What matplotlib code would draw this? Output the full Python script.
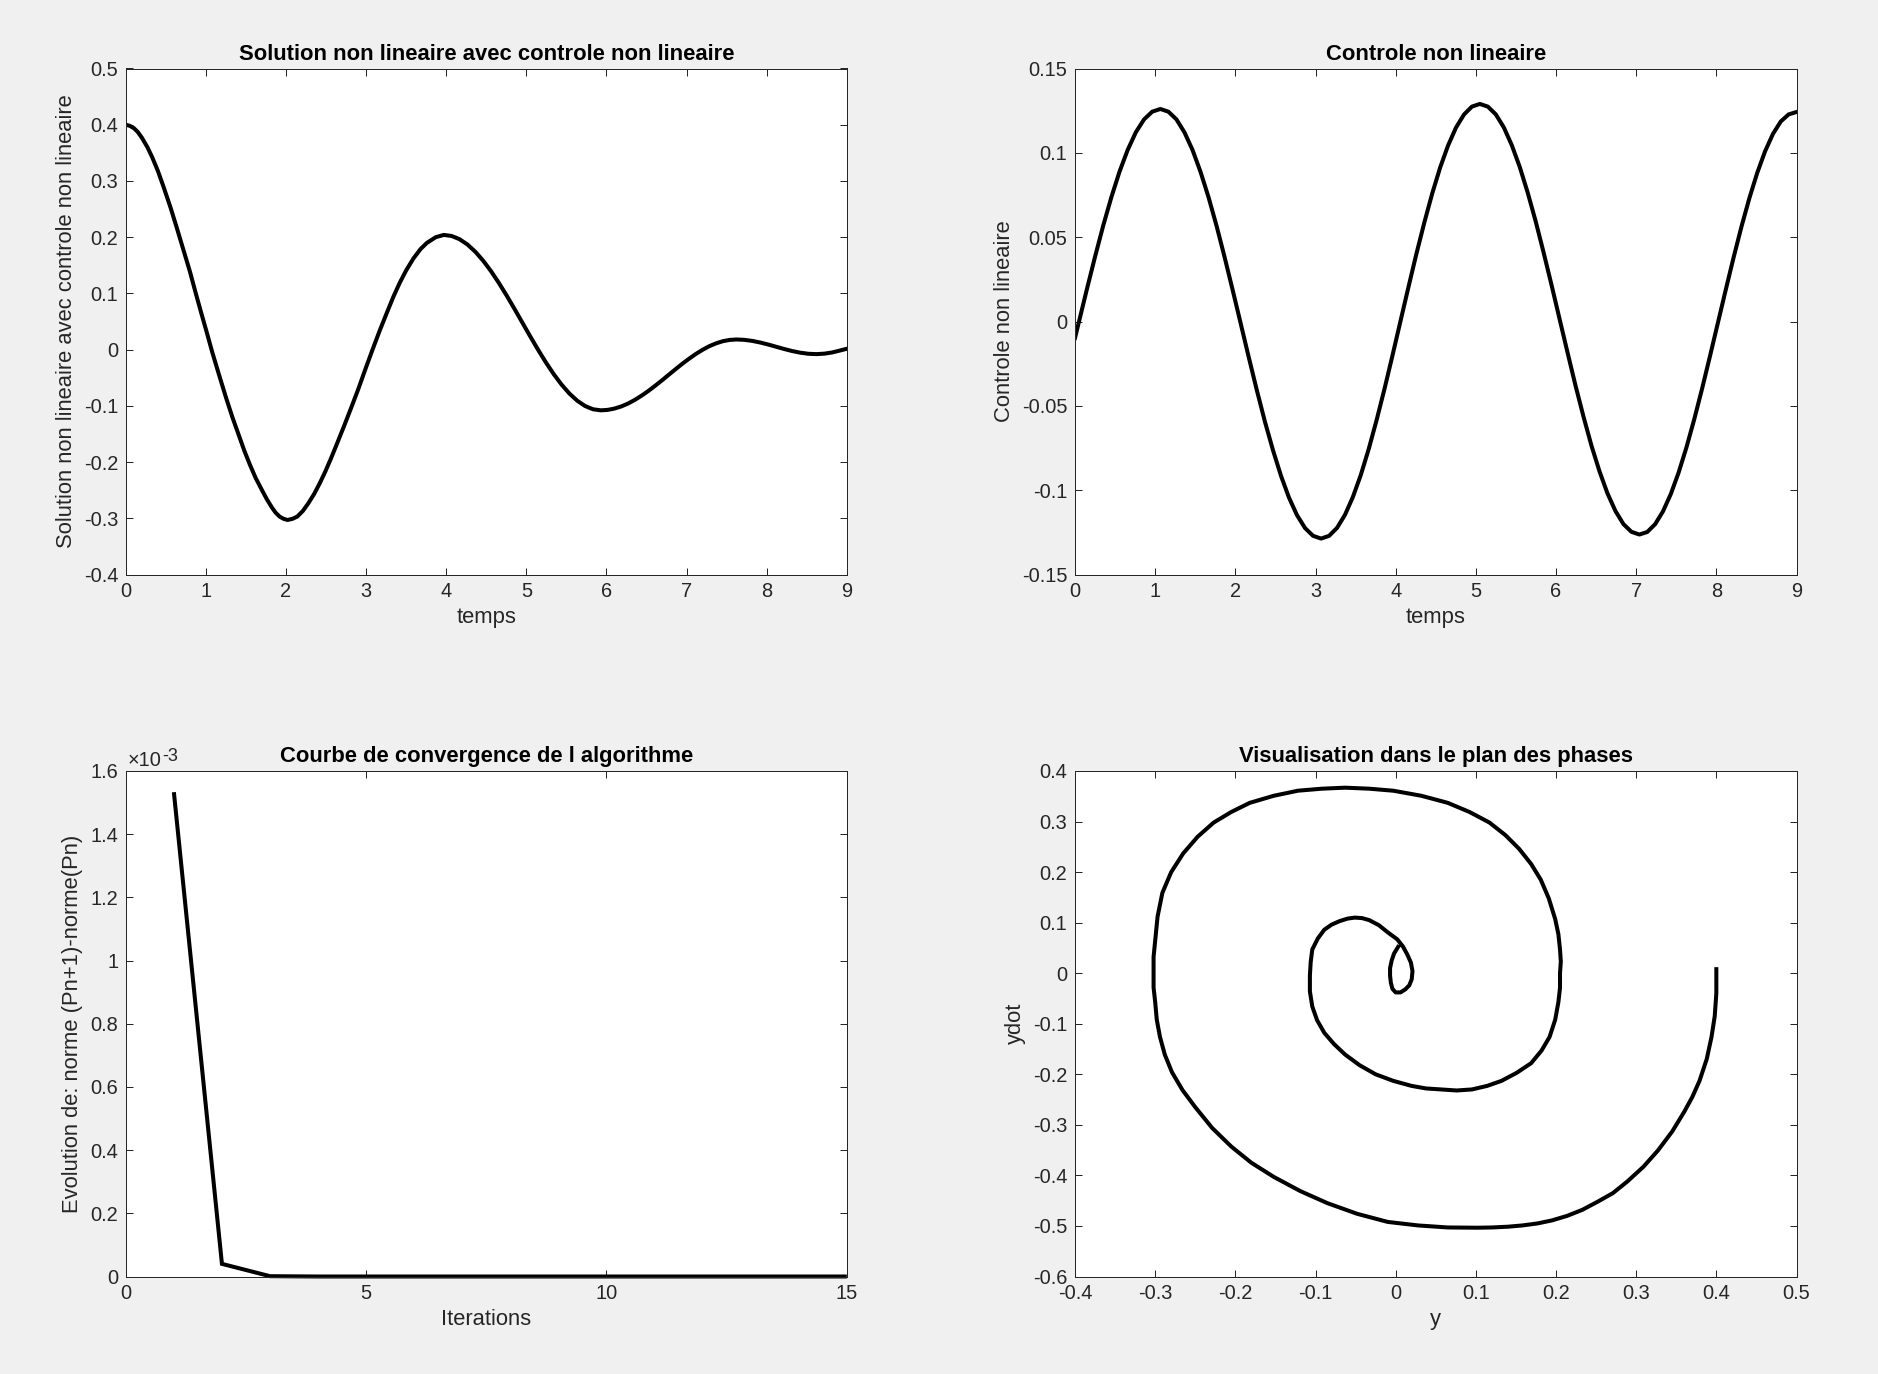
import matplotlib
matplotlib.use('Agg')
import matplotlib.pyplot as plt
from matplotlib.ticker import FuncFormatter

plt.rcParams['font.family'] = ['Liberation Sans', 'DejaVu Sans']
plt.rcParams['axes.unicode_minus'] = False

# ---------------- data ----------------
# Top-left: solution y(t)
t_sol = [0.00, 0.05, 0.10, 0.15, 0.20, 0.27, 0.33, 0.40, 0.47, 0.56,
         0.64, 0.72, 0.80, 0.87, 0.94, 1.01, 1.08, 1.16, 1.25, 1.33,
         1.41, 1.48, 1.55, 1.62, 1.70, 1.76, 1.82, 1.87, 1.92, 1.97,
         2.02, 2.08, 2.14, 2.21, 2.28, 2.35, 2.42, 2.49, 2.56, 2.64,
         2.73, 2.82, 2.90, 2.99, 3.08, 3.17, 3.26, 3.34, 3.42, 3.50,
         3.59, 3.68, 3.76, 3.87, 3.970, 4.068, 4.166, 4.264, 4.362, 4.460,
         4.558, 4.656, 4.754, 4.852, 4.950, 5.048, 5.146, 5.244, 5.342, 5.440,
         5.538, 5.636, 5.734, 5.832, 5.930, 6.015, 6.099, 6.184, 6.268, 6.353,
         6.437, 6.522, 6.606, 6.691, 6.775, 6.860, 6.944, 7.029, 7.113, 7.198,
         7.282, 7.367, 7.451, 7.536, 7.620, 7.720, 7.820, 7.920, 8.020, 8.120,
         8.220, 8.320, 8.420, 8.520, 8.620, 8.720, 8.820, 8.910, 9.000]
y_sol = [0.400, 0.398, 0.394, 0.387, 0.377, 0.360, 0.342, 0.318, 0.290, 0.252,
         0.215, 0.177, 0.139, 0.102, 0.066, 0.031, -0.005, -0.043, -0.085, -0.120,
         -0.152, -0.180, -0.205, -0.228, -0.250, -0.266, -0.280, -0.290, -0.297, -0.301,
         -0.303, -0.301, -0.297, -0.287, -0.273, -0.257, -0.238, -0.217, -0.194, -0.166,
         -0.134, -0.101, -0.071, -0.035, 0.000, 0.034, 0.066, 0.094, 0.119, 0.141,
         0.162, 0.179, 0.190, 0.200, 0.2040, 0.2021, 0.1964, 0.1870, 0.1742, 0.1583,
         0.1397, 0.1188, 0.0962, 0.0724, 0.0480, 0.0236, -0.0002, -0.0228, -0.0437, -0.0623,
         -0.0782, -0.0910, -0.1004, -0.1061, -0.1080, -0.1072, -0.1049, -0.1011, -0.0960, -0.0895,
         -0.0820, -0.0736, -0.0645, -0.0549, -0.0450, -0.0351, -0.0255, -0.0164, -0.0080, -0.0005,
         0.0060, 0.0111, 0.0149, 0.0172, 0.0180, 0.0174, 0.0155, 0.0126, 0.0090, 0.0050,
         0.0010, -0.0026, -0.0055, -0.0074, -0.0080, -0.0072, -0.0050, -0.0018, 0.0015]

# Top-right: control u(t)
t_ctl = [0.000, 0.045, 0.147, 0.249, 0.351, 0.453, 0.555, 0.657, 0.759, 0.861, 0.963,
         1.065, 1.165, 1.266, 1.366, 1.466, 1.566, 1.667, 1.767, 1.867, 1.967,
         2.068, 2.168, 2.268, 2.368, 2.469, 2.569, 2.669, 2.769, 2.870, 2.970, 3.070,
         3.169, 3.268, 3.367, 3.466, 3.565, 3.664, 3.763, 3.862, 3.961, 4.060,
         4.159, 4.258, 4.357, 4.456, 4.555, 4.654, 4.753, 4.852, 4.951, 5.050,
         5.150, 5.249, 5.349, 5.448, 5.548, 5.647, 5.747, 5.846, 5.946, 6.045,
         6.145, 6.244, 6.344, 6.443, 6.543, 6.642, 6.742, 6.841, 6.941, 7.040,
         7.138, 7.236, 7.334, 7.432, 7.530, 7.628, 7.726, 7.824, 7.922, 8.020,
         8.118, 8.216, 8.314, 8.412, 8.510, 8.608, 8.706, 8.804, 8.902, 9.000]
u_ctl = [-0.0098, -0.0010, 0.0189, 0.0382, 0.0567, 0.0736, 0.0888, 0.1017, 0.1122, 0.1198, 0.1244,
         0.1260, 0.1244, 0.1198, 0.1121, 0.1017, 0.0887, 0.0735, 0.0565, 0.0380, 0.0186,
         -0.0014, -0.0213, -0.0407, -0.0592, -0.0762, -0.0914, -0.1044, -0.1148, -0.1225, -0.1271, -0.1287,
         -0.1271, -0.1224, -0.1147, -0.1041, -0.0910, -0.0756, -0.0583, -0.0397, -0.0200, 0.0002,
         0.0203, 0.0400, 0.0586, 0.0759, 0.0913, 0.1044, 0.1150, 0.1227, 0.1274, 0.1290,
         0.1274, 0.1228, 0.1151, 0.1046, 0.0916, 0.0764, 0.0593, 0.0408, 0.0213, 0.0014,
         -0.0186, -0.0381, -0.0566, -0.0737, -0.0889, -0.1019, -0.1124, -0.1201, -0.1247, -0.1263,
         -0.1248, -0.1202, -0.1126, -0.1023, -0.0895, -0.0745, -0.0577, -0.0395, -0.0203, -0.0007,
         0.0189, 0.0381, 0.0563, 0.0731, 0.0881, 0.1009, 0.1112, 0.1186, 0.1228, 0.1242]

# Bottom-left: convergence
iterations = list(range(1, 16))
ecart = [1.533e-3, 4.0e-5, 1.0e-6, 0, 0, 0, 0, 0, 0, 0, 0, 0, 0, 0, 0]

# Bottom-right: phase plane (y, ydot)
y_ph = [0.400, 0.400, 0.398, 0.394, 0.388, 0.379, 0.370, 0.360, 0.345, 0.327,
        0.309, 0.289, 0.271, 0.252, 0.233, 0.214, 0.195, 0.177, 0.158, 0.140,
        0.120, 0.102, 0.065, 0.028,
        -0.010, -0.048, -0.085, -0.119, -0.152, -0.180, -0.205, -0.229, -0.250, -0.266,
        -0.279, -0.288, -0.294, -0.298, -0.300, -0.302, -0.302, -0.302, -0.300, -0.297,
        -0.291, -0.280, -0.265, -0.247, -0.227, -0.205, -0.182, -0.152, -0.122, -0.092,
        -0.063, -0.033, -0.003, 0.032, 0.065, 0.092, 0.117, 0.137, 0.154, 0.169,
        0.181, 0.191, 0.199, 0.203, 0.205, 0.206, 0.205, 0.205, 0.203, 0.199,
        0.192, 0.182, 0.169, 0.151, 0.132, 0.114, 0.095, 0.076, 0.057, 0.038,
        0.020, -0.003, -0.025, -0.045, -0.063, -0.077, -0.089, -0.098, -0.104, -0.107,
        -0.107, -0.106, -0.104, -0.097, -0.089, -0.080, -0.070, -0.060, -0.051, -0.042,
        -0.033, -0.021, -0.010, 0.002, 0.009, 0.0145, 0.019, 0.021, 0.020, 0.017,
        0.012, 0.006, 0.000, -0.004, -0.006, -0.007, -0.007, -0.005, -0.002, 0.003]
ydot_ph = [0.008, -0.040, -0.085, -0.126, -0.170, -0.213, -0.245, -0.274, -0.313, -0.351,
           -0.383, -0.412, -0.435, -0.452, -0.468, -0.480, -0.489, -0.495, -0.499, -0.5015,
           -0.503, -0.5035, -0.503, -0.499,
           -0.492, -0.476, -0.455, -0.431, -0.403, -0.375, -0.343, -0.306, -0.265, -0.231,
           -0.196, -0.161, -0.126, -0.092, -0.057, -0.028, 0.000, 0.032, 0.064, 0.112,
           0.159, 0.200, 0.237, 0.270, 0.298, 0.319, 0.337, 0.351, 0.361, 0.365,
           0.367, 0.365, 0.361, 0.351, 0.337, 0.319, 0.298, 0.273, 0.246, 0.216,
           0.185, 0.148, 0.107, 0.077, 0.047, 0.023, 0.000, -0.029, -0.057, -0.092,
           -0.126, -0.153, -0.178, -0.197, -0.213, -0.223, -0.230, -0.232, -0.230, -0.228,
           -0.223, -0.213, -0.200, -0.182, -0.161, -0.140, -0.118, -0.093, -0.066, -0.036,
           -0.005, 0.022, 0.047, 0.069, 0.086, 0.096, 0.103, 0.108, 0.110, 0.109,
           0.105, 0.095, 0.081, 0.067, 0.053, 0.037, 0.021, 0.004, -0.012, -0.024,
           -0.032, -0.038, -0.038, -0.031, -0.019, -0.005, 0.010, 0.025, 0.039, 0.052]

# tick values
xt_time = [0, 1, 2, 3, 4, 5, 6, 7, 8, 9]
yt_sol = [-0.4, -0.3, -0.2, -0.1, 0, 0.1, 0.2, 0.3, 0.4, 0.5]
yt_ctl = [-0.15, -0.1, -0.05, 0, 0.05, 0.1, 0.15]
xt_it = [0, 5, 10, 15]
yt_it = [0, 0.2e-3, 0.4e-3, 0.6e-3, 0.8e-3, 1.0e-3, 1.2e-3, 1.4e-3, 1.6e-3]
xt_ph = [-0.4, -0.3, -0.2, -0.1, 0, 0.1, 0.2, 0.3, 0.4, 0.5]
yt_ph = [-0.6, -0.5, -0.4, -0.3, -0.2, -0.1, 0, 0.1, 0.2, 0.3, 0.4]

# ---------------- figure ----------------
W, H = 1878, 1374
fig = plt.figure(figsize=(W / 100, H / 100), dpi=100, facecolor='#f0f0f0')

TXT = '#262626'
TICK_FS = 14.4
LAB_FS = 15.8
LW = 2.9


def make_ax(x0, x1, y0, y1):
    return fig.add_axes([x0 / W, 1 - y1 / H, (x1 - x0) / W, (y1 - y0) / H])


def g(v, scale=1.0):
    s = '%g' % round(v * scale, 6)
    return '0' if s == '-0' else s


def style(ax, xt, yt, xlim, ylim, yscale=1.0):
    ax.set_facecolor('white')
    ax.set_xlim(*xlim)
    ax.set_ylim(*ylim)
    ax.set_xticks(xt)
    ax.set_yticks(yt)
    ax.xaxis.set_major_formatter(FuncFormatter(lambda v, p: g(v)))
    ax.yaxis.set_major_formatter(FuncFormatter(lambda v, p: g(v, scale=yscale)))
    ax.tick_params(direction='in', length=5, width=0.72, top=True, right=True,
                   labelsize=TICK_FS, colors=TXT, pad=5.5)
    for s in ax.spines.values():
        s.set_color(TXT)
        s.set_linewidth(0.72)


def labels(ax, title, xl, yl):
    ax.set_title(title, fontsize=LAB_FS, fontweight='bold', color='black', pad=6.2)
    ax.set_xlabel(xl, fontsize=LAB_FS, color=TXT, labelpad=4.5)
    ax.set_ylabel(yl, fontsize=LAB_FS, color=TXT, labelpad=5)


L1, R1 = 125.8, 846.8
L2, R2 = 1075.0, 1796.5
T1, B1 = 68.5, 574.5
T2, B2 = 771.0, 1276.5

# Top-left
ax1 = make_ax(L1, R1, T1, B1)
ax1.plot(t_sol, y_sol, color='black', lw=LW, solid_joinstyle='round')
style(ax1, xt_time, yt_sol, (0, 9), (-0.4, 0.5))
labels(ax1, 'Solution non lineaire avec controle non lineaire', 'temps',
       'Solution non lineaire avec controle non lineaire')

# Top-right
ax2 = make_ax(L2, R2, T1, B1)
ax2.plot(t_ctl, u_ctl, color='black', lw=LW, solid_joinstyle='round')
style(ax2, xt_time, yt_ctl, (0, 9), (-0.15, 0.15))
labels(ax2, 'Controle non lineaire', 'temps', 'Controle non lineaire')

# Bottom-left
ax3 = make_ax(L1, R1, T2, B2)
ax3.plot(iterations, ecart, color='black', lw=LW, clip_on=False,
         solid_capstyle='butt', solid_joinstyle='miter')
style(ax3, xt_it, yt_it, (0, 15), (0, 1.6e-3), yscale=1e3)
labels(ax3, 'Courbe de convergence de l algorithme', 'Iterations',
       'Evolution de: norme (Pn+1)-norme(Pn)')
t1 = ax3.text(0.003, 1.010, '×10', transform=ax3.transAxes, fontsize=TICK_FS,
              color=TXT, ha='left', va='baseline')
ax3.annotate('-3', xy=(1, 0), xycoords=t1, fontsize=13, color=TXT,
             ha='left', va='bottom', xytext=(0.3, 3.5), textcoords='offset points')

# Bottom-right
ax4 = make_ax(L2, R2, T2, B2)
ax4.plot(y_ph, ydot_ph, color='black', lw=LW, solid_joinstyle='round')
style(ax4, xt_ph, yt_ph, (-0.4, 0.5), (-0.6, 0.4))
labels(ax4, 'Visualisation dans le plan des phases', 'y', 'ydot')

fig.savefig('out.png', dpi=100, facecolor=fig.get_facecolor())
